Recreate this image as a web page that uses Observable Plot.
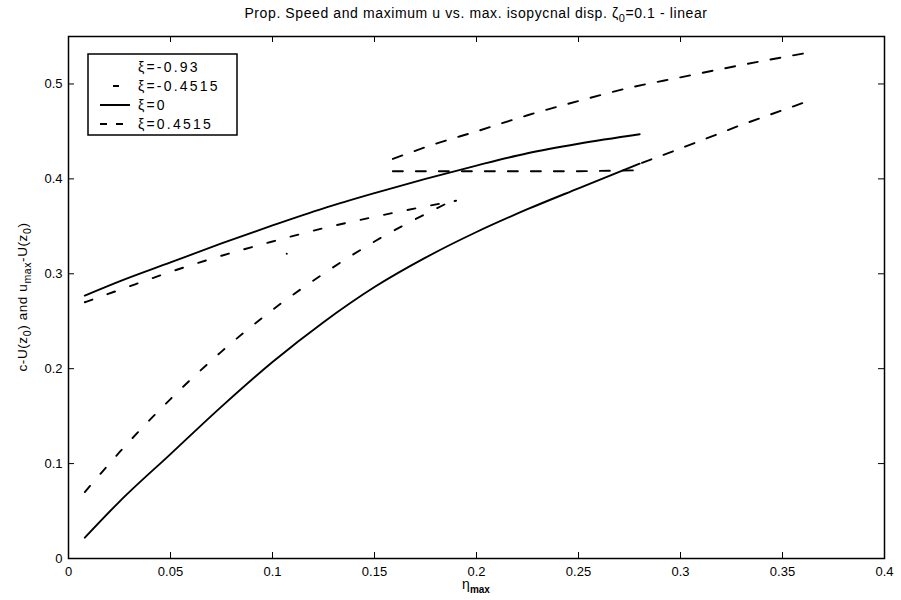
<!DOCTYPE html>
<html><head><meta charset="utf-8">
<script src="https://cdn.jsdelivr.net/npm/d3@7"></script>
<script src="https://cdn.jsdelivr.net/npm/@observablehq/plot@0.6"></script>
<style>
body{margin:0;background:#fff}
svg{font-family:"Liberation Sans",Arial,Helvetica,sans-serif}
</style>
</head><body><div id="chart"></div>
<script>
// ---- data ----
const xTicks = [0, 0.05, 0.1, 0.15, 0.2, 0.25, 0.3, 0.35, 0.4];
const yTicks = [0, 0.1, 0.2, 0.3, 0.4, 0.5];
const legendLabels = ["ξ=-0.93", "ξ=-0.4515", "ξ=0", "ξ=0.4515"];

// ξ = -0.93 : a single isolated point
const etaM093 = [0.107];
const cM093 = [0.321];

// ξ = -0.4515 : c-U (upper) and u_max-U (lower)
const etaM045 = [0.008, 0.025, 0.05, 0.075, 0.1, 0.125, 0.15, 0.175, 0.19];
const cM045 = [0.270, 0.283, 0.302, 0.319, 0.334, 0.348, 0.360, 0.371, 0.377];
const uM045 = [0.070, 0.112, 0.168, 0.218, 0.262, 0.300, 0.334, 0.363, 0.379];

// ξ = 0 : c-U (upper) and u_max-U (lower)
const eta0 = [0.008, 0.025, 0.05, 0.075, 0.1, 0.125, 0.15, 0.175, 0.2, 0.225, 0.25, 0.28];
const c0 = [0.277, 0.292, 0.312, 0.332, 0.351, 0.369, 0.385, 0.400, 0.414, 0.427, 0.437, 0.447];
const u0 = [0.022, 0.060, 0.110, 0.160, 0.207, 0.249, 0.286, 0.317, 0.344, 0.368, 0.390, 0.416];

// ξ = 0.4515
const etaP045c = [0.159, 0.18, 0.2, 0.225, 0.25, 0.275, 0.3, 0.33, 0.36];
const cP045 = [0.421, 0.437, 0.450, 0.467, 0.482, 0.496, 0.507, 0.520, 0.532];
const etaP045u = [0.159, 0.2, 0.25, 0.278, 0.28, 0.3, 0.33, 0.36];
const uP045 = [0.408, 0.408, 0.408, 0.409, 0.416, 0.432, 0.457, 0.480];

const rows = (xs, ys, curve) => xs.map((x, i) => ({x, y: ys[i], curve}));

const W = 901, H = 600;
const mL = 68, mR = 17, mT = 36, mB = 42;
const fw = W - mL - mR, fh = H - mT - mB;

const dataM045 = [...rows(etaM045, cM045, "c"), ...rows(etaM045, uM045, "u")];
const data0 = [...rows(eta0, c0, "c"), ...rows(eta0, u0, "u")];
const dataP045c = rows(etaP045c, cP045, "c");
const dataP045u = rows(etaP045u, uP045, "u");
const dataM093 = rows(etaM093, cM093, "p");

const plot = Plot.plot({
  width: W, height: H,
  marginLeft: mL, marginRight: mR, marginTop: mT, marginBottom: mB,
  x: {domain: [0, 0.4]},
  y: {domain: [0, 0.55]},
  style: {fontFamily: '"Liberation Sans", Arial, sans-serif', color: "#000", background: "#fff"},
  marks: [
    Plot.line(data0, {x: "x", y: "y", z: "curve", stroke: "#000", strokeWidth: 1.9, curve: "monotone-x"}),
    Plot.line(dataM045, {x: "x", y: "y", z: "curve", stroke: "#000", strokeWidth: 1.9, strokeDasharray: "8,16", curve: "monotone-x"}),
    Plot.line(dataP045c, {x: "x", y: "y", stroke: "#000", strokeWidth: 1.9, strokeDasharray: "10,13", curve: "monotone-x"}),
    Plot.line(dataP045u, {x: "x", y: "y", stroke: "#000", strokeWidth: 1.9, strokeDasharray: "10,13"}),
    Plot.dot(dataM093, {x: "x", y: "y", r: 1, fill: "#000", stroke: "none"}),
    Plot.frame({stroke: "#000", strokeWidth: 1.5}),
    Plot.tickX(xTicks, {x: d => d, insetTop: fh - 6, stroke: "#000"}),
    Plot.tickX(xTicks, {x: d => d, insetBottom: fh - 6, stroke: "#000"}),
    Plot.tickY(yTicks, {y: d => d, insetRight: fw - 6, stroke: "#000"}),
    Plot.tickY(yTicks, {y: d => d, insetLeft: fw - 6, stroke: "#000"}),
    Plot.axisX(xTicks, {anchor: "bottom", tickSize: 0, tickPadding: 8, fontSize: 13, label: null, tickFormat: d => String(d)}),
    Plot.axisY(yTicks, {anchor: "left", tickSize: 0, tickPadding: 6, fontSize: 13, label: null, tickFormat: d => String(d)})
  ]
});
document.getElementById("chart").appendChild(plot);

// ---- annotations: title, axis labels, legend ----
const svg = d3.select(plot);
const cx = mL + fw / 2;

const title = svg.append("text").attr("x", cx).attr("y", 18).attr("text-anchor", "middle")
  .attr("font-size", 14).attr("letter-spacing", 0.6).attr("fill", "#000");
title.append("tspan").text("Prop. Speed and maximum u vs. max. isopycnal disp. ζ");
title.append("tspan").attr("font-size", 11).attr("dy", 4).text("0");
title.append("tspan").attr("dy", -4).text("=0.1 - linear");

const xl = svg.append("text").attr("x", cx).attr("y", 589).attr("text-anchor", "middle")
  .attr("font-size", 14).attr("fill", "#000");
xl.append("tspan").text("η");
xl.append("tspan").attr("font-size", 10).attr("dy", 4).attr("font-weight", "bold").text("max");

const yl = svg.append("text").attr("transform", `translate(27,${mT + fh / 2}) rotate(-90)`)
  .attr("text-anchor", "middle").attr("font-size", 13.5).attr("letter-spacing", 0.6).attr("fill", "#000");
yl.append("tspan").text("c-U(z");
yl.append("tspan").attr("font-size", 10.5).attr("dy", 4).text("0");
yl.append("tspan").attr("dy", -4).text(") and u");
yl.append("tspan").attr("font-size", 10.5).attr("dy", 4).text("max");
yl.append("tspan").attr("dy", -4).text("-U(z");
yl.append("tspan").attr("font-size", 10.5).attr("dy", 4).text("0");
yl.append("tspan").attr("dy", -4).text(")");

// legend
const lg = svg.append("g");
lg.append("rect").attr("x", 88).attr("y", 54).attr("width", 149).attr("height", 81)
  .attr("fill", "#fff").attr("stroke", "#000").attr("stroke-width", 1.5);
const rowsY = [67, 86, 105, 124];
legendLabels.forEach((lab, i) => {
  lg.append("text").attr("x", 138).attr("y", rowsY[i]).attr("dy", "0.35em")
    .attr("text-anchor", "start").attr("letter-spacing", 2.2)
    .attr("font-size", 14).attr("fill", "#000").text(lab);
});
// sample lines
lg.append("line").attr("x1", 113).attr("x2", 119).attr("y1", rowsY[1]).attr("y2", rowsY[1])
  .attr("stroke", "#000").attr("stroke-width", 2);
lg.append("line").attr("x1", 100).attr("x2", 130).attr("y1", rowsY[2]).attr("y2", rowsY[2])
  .attr("stroke", "#000").attr("stroke-width", 2);
lg.append("line").attr("x1", 100).attr("x2", 130).attr("y1", rowsY[3]).attr("y2", rowsY[3])
  .attr("stroke", "#000").attr("stroke-width", 2).attr("stroke-dasharray", "7,9");
</script>
</body></html>
